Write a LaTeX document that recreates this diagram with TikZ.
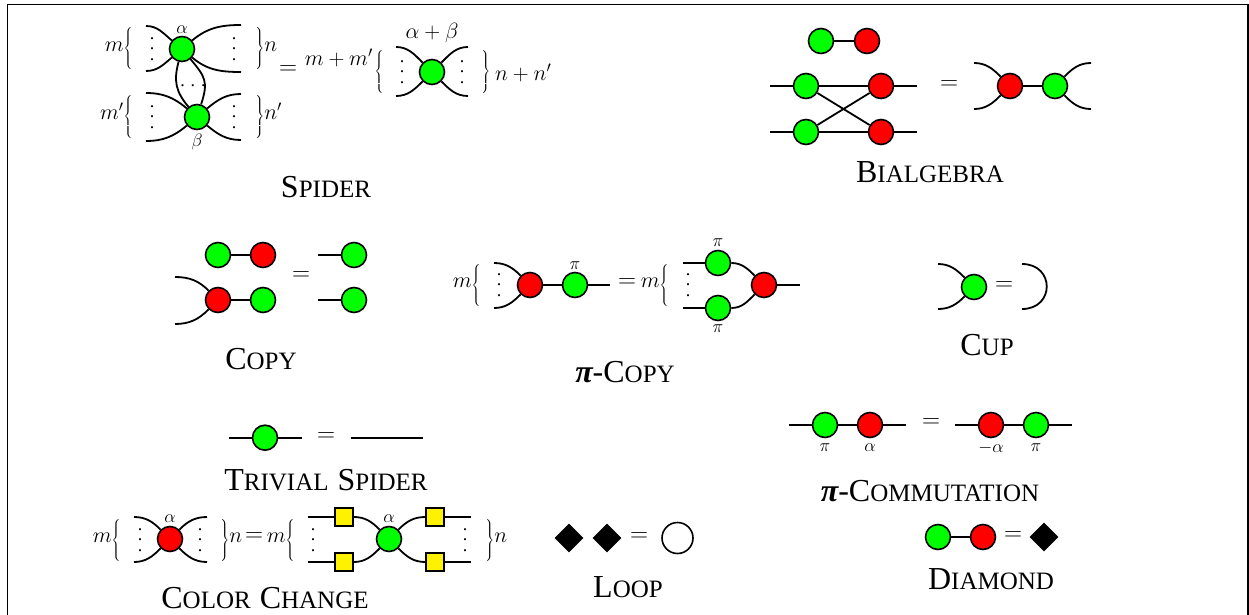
\documentclass[tikz,border=0pt]{standalone}
\usepackage{fix-cm}
\usepackage{amsmath}
\usepackage{fontspec}
\setmainfont{Liberation Serif}
\usetikzlibrary{
    shapes.geometric,
    positioning,
}
% caption in faked small capitals: large initial, then the rest
\newcommand{\capsName}[2]{{\fontsize{32}{32}\selectfont #1\fontsize{25}{25}\selectfont #2}}
\newcommand{\piName}{{\fontsize{32}{32}\selectfont\bfseries\itshape π}}
\newcommand{\tallDots}{\vbox{\baselineskip=10.7pt\lineskiplimit=0pt\hbox{.}\hbox{.}\hbox{.}}}
\newcommand{\wideDots}{\hbox{.\hskip6pt.\hskip6pt.}}
\newcommand{\leftBrace}{\hbox{\fontsize{10}{12}\selectfont$\left\{\vphantom{\rule[-20pt]{0pt}{45pt}}\right.$}}
\newcommand{\rightBrace}{\hbox{\fontsize{10}{12}\selectfont$\left.\vphantom{\rule[-20pt]{0pt}{45pt}}\right\}$}}

\begin{document}
\begin{tikzpicture}[x=1pt,y=-1pt]

    \tikzstyle{commonNode}=[circle, line width=1.6pt, draw=black, minimum size=25pt, inner sep=0pt]
    \tikzstyle{zgreen}=[commonNode, fill=green]
    \tikzstyle{xred}=[commonNode, fill=red]
    \tikzstyle{hbox}=[rectangle, line width=1.6pt, draw=black, fill=yellow, minimum size=18pt, inner sep=0pt]
    \tikzstyle{blackDiamond}=[diamond, fill=black, minimum size=29pt, inner sep=0pt]
    \tikzstyle{wire}=[line width=1.8pt]
    \tikzstyle{eqsign}=[font=\fontsize{25}{25}\selectfont, inner sep=0pt]
    \tikzstyle{mathLabel}=[font=\fontsize{22}{22}\selectfont, inner sep=0pt]
    \tikzstyle{phase}=[font=\fontsize{18}{18}\selectfont, inner sep=0pt]
    \tikzstyle{dotsNode}=[font=\fontsize{18}{18}\selectfont, inner sep=0pt]
    \tikzstyle{caption}=[inner sep=0pt]

    \useasboundingbox (0,0) rectangle (1249,615);

    % Frame
    \coordinate (frameBL) at (7.5,615);
    \coordinate (frameTL) at (7.5,4.3);
    \coordinate (frameTR) at (1248,4.3);
    \coordinate (frameBR) at (1248,615);
    \draw [line width=1.2pt] (frameBL) -- (frameTL) -- (frameTR) -- (frameBR);

    % Spider, left side
    \coordinate (sa1) at (146,26);
    \coordinate (sa2) at (146,71);
    \coordinate (sa3) at (241,25);
    \coordinate (sa4) at (241,72);
    \coordinate (sb1) at (146,93);
    \coordinate (sb2) at (146,141);
    \coordinate (sb3) at (241,94);
    \coordinate (sb4) at (241,140);
    \node at (182,49) [zgreen] (SA) {}
        edge [wire, out=140, in=0] (sa1)
        edge [wire, out=220, in=0] (sa2)
        edge [wire, out=40, in=180] (sa3)
        edge [wire, out=-40, in=180] (sa4);
    \node at (197,117) [zgreen] (SB) {}
        edge [wire, out=140, in=0] (sb1)
        edge [wire, out=220, in=0] (sb2)
        edge [wire, out=40, in=180] (sb3)
        edge [wire, out=-40, in=180] (sb4)
        edge [wire, out=130, in=-105, looseness=1.1] (SA)
        edge [wire, out=72, in=-50, looseness=1.3] (SA);
    \node at (182,30) [phase] (SAphase) {$\alpha$};
    \node at (197,142) [phase] (SBphase) {$\beta$};
    \node at (152,49) [dotsNode] (sad1) {\tallDots};
    \node at (234,49) [dotsNode] (sad2) {\tallDots};
    \node at (152,117) [dotsNode] (sbd1) {\tallDots};
    \node at (234,117) [dotsNode] (sbd2) {\tallDots};
    \node at (193,86) [dotsNode] (sbd3) {\wideDots};
    \node at (134,49) [mathLabel, anchor=east] (SAm) {$m\leftBrace$};
    \node at (254,49) [mathLabel, anchor=west] (SAn) {$\rightBrace n$};
    \node at (134,117) [mathLabel, anchor=east] (SBm) {$m'\leftBrace$};
    \node at (254,117) [mathLabel, anchor=west] (SBn) {$\rightBrace n'$};
    \node at (288,70) [eqsign] (Seq) {$=$};

    % Spider, right side
    \coordinate (sc1) at (396,47);
    \coordinate (sc2) at (396,96);
    \coordinate (sc3) at (468,47);
    \coordinate (sc4) at (468,96);
    \node at (432,72) [zgreen] (SC) {}
        edge [wire, out=135, in=0] (sc1)
        edge [wire, out=225, in=0] (sc2)
        edge [wire, out=45, in=180] (sc3)
        edge [wire, out=-45, in=180] (sc4);
    \node at (432,33) [mathLabel] (SCphase) {$\alpha+\beta$};
    \node at (402,72) [dotsNode] (scd1) {\tallDots};
    \node at (462,72) [dotsNode] (scd2) {\tallDots};
    \node at (373,58) [mathLabel, anchor=east] (SCm) {$m+m'$};
    \node at (385,72) [mathLabel, anchor=east] (SCbl) {$\leftBrace$};
    \node at (480,72) [mathLabel, anchor=west] (SCbr) {$\rightBrace$};
    \node at (495,73) [mathLabel, anchor=west] (SCn) {$n+n'$};
    \node at (326,187) [caption] (Spider) {\capsName{S}{PIDER}};

    % Bialgebra
    \node at (821,41) [zgreen] (BA) {};
    \node at (867,41) [xred] (BB) {}
        edge [wire] (BA);
    \coordinate (bl1) at (770,86);
    \coordinate (bl2) at (770,132);
    \coordinate (br1) at (917,86);
    \coordinate (br2) at (917,132);
    \node at (806,86) [zgreen] (BC) {}
        edge [wire] (bl1);
    \node at (806,132) [zgreen] (BD) {}
        edge [wire] (bl2);
    \node at (881,86) [xred] (BE) {}
        edge [wire] (br1)
        edge [wire] (BC)
        edge [wire] (BD);
    \node at (881,132) [xred] (BF) {}
        edge [wire] (br2)
        edge [wire] (BC)
        edge [wire] (BD);
    \node at (949,85) [eqsign] (Beq) {$=$};
    \coordinate (bq1) at (974,63);
    \coordinate (bq2) at (974,109);
    \coordinate (bq3) at (1091,63);
    \coordinate (bq4) at (1091,109);
    \node at (1010,86) [xred] (BG) {}
        edge [wire, out=135, in=0] (bq1)
        edge [wire, out=225, in=0] (bq2);
    \node at (1055,86) [zgreen] (BH) {}
        edge [wire] (BG)
        edge [wire, out=45, in=180] (bq3)
        edge [wire, out=-45, in=180] (bq4);
    \node at (930,172) [caption] (Bialgebra) {\capsName{B}{IALGEBRA}};

    % Copy
    \node at (218,255) [zgreen] (CA) {};
    \node at (263,255) [xred] (CB) {}
        edge [wire] (CA);
    \coordinate (cl1) at (175,277);
    \coordinate (cl2) at (175,324);
    \node at (218,300) [xred] (CC) {}
        edge [wire, out=135, in=0] (cl1)
        edge [wire, out=225, in=0] (cl2);
    \node at (263,300) [zgreen] (CD) {}
        edge [wire] (CC);
    \node at (301,276) [eqsign] (Ceq) {$=$};
    \coordinate (cr1) at (318,255);
    \coordinate (cr2) at (318,300);
    \node at (354,255) [zgreen] (CE) {}
        edge [wire] (cr1);
    \node at (354,300) [zgreen] (CF) {}
        edge [wire] (cr2);
    \node at (261,359) [caption] (Copy) {\capsName{C}{OPY}};

    % Pi-copy
    \coordinate (pl1) at (494,263);
    \coordinate (pl2) at (494,308);
    \coordinate (pr1) at (610,285);
    \node at (530,285) [xred] (PA) {}
        edge [wire, out=135, in=0] (pl1)
        edge [wire, out=225, in=0] (pl2);
    \node at (575,285) [zgreen] (PB) {}
        edge [wire] (PA)
        edge [wire] (pr1);
    \node at (575,266) [phase] (PBphase) {$\pi$};
    \node at (499,285) [dotsNode] (pd1) {\tallDots};
    \node at (482,285) [mathLabel, anchor=east] (Pm1) {$m\leftBrace$};
    \node at (627,283) [eqsign] (Peq) {$=$};
    \coordinate (pl3) at (683,263);
    \coordinate (pl4) at (683,308);
    \coordinate (pr2) at (800,285);
    \node at (718,263) [zgreen] (PC) {}
        edge [wire] (pl3);
    \node at (718,308) [zgreen] (PD) {}
        edge [wire] (pl4);
    \node at (764,285) [xred] (PE) {}
        edge [wire, out=135, in=0] (PC)
        edge [wire, out=225, in=0] (PD)
        edge [wire] (pr2);
    \node at (718,243) [phase] (PCphase) {$\pi$};
    \node at (718,329) [phase] (PDphase) {$\pi$};
    \node at (688,285) [dotsNode] (pd2) {\tallDots};
    \node at (670,285) [mathLabel, anchor=east] (Pm2) {$m\leftBrace$};
    \node at (625,372) [caption] (PiCopy) {\piName\capsName{-C}{OPY}};

    % Cup
    \coordinate (ul1) at (938,264);
    \coordinate (ul2) at (938,309);
    \coordinate (ur1) at (1022,264);
    \coordinate (ur2) at (1022,309);
    \node at (974,287) [zgreen] (UA) {}
        edge [wire, out=135, in=0] (ul1)
        edge [wire, out=225, in=0] (ul2);
    \node at (1004,286) [eqsign] (Ueq) {$=$};
    \draw [wire] (ur1) .. controls (1055,264) and (1055,309) .. (ur2);
    \node at (987,345) [caption] (Cup) {\capsName{C}{UP}};

    % Trivial spider
    \coordinate (tl1) at (229,437.7);
    \coordinate (tr1) at (302,437.7);
    \coordinate (tl2) at (351,437.7);
    \coordinate (tr2) at (423,437.7);
    \node at (265,437.7) [zgreen] (TA) {}
        edge [wire] (tl1)
        edge [wire] (tr1);
    \node at (326,437) [eqsign] (Teq) {$=$};
    \draw [wire] (tl2) -- (tr2);
    \node at (326,480) [caption] (Trivial) {\capsName{T}{RIVIAL}\hspace{9pt}\capsName{S}{PIDER}};

    % Pi-commutation
    \coordinate (ml1) at (789,425);
    \coordinate (mr1) at (906,425);
    \coordinate (ml2) at (955,425);
    \coordinate (mr2) at (1072,425);
    \node at (825,425) [zgreen] (MA) {}
        edge [wire] (ml1);
    \node at (870,425) [xred] (MB) {}
        edge [wire] (MA)
        edge [wire] (mr1);
    \node at (991,425) [xred] (MC) {}
        edge [wire] (ml2);
    \node at (1036,425) [zgreen] (MD) {}
        edge [wire] (MC)
        edge [wire] (mr2);
    \node at (825,448) [phase] (MAphase) {$\pi$};
    \node at (870,448) [phase] (MBphase) {$\alpha$};
    \node at (991,448) [phase] (MCphase) {$-\alpha$};
    \node at (1036,448) [phase] (MDphase) {$\pi$};
    \node at (931,423) [eqsign] (Meq) {$=$};
    \node at (930,491) [caption] (PiComm) {\piName\capsName{-C}{OMMUTATION}};

    % Color change
    \coordinate (hl1) at (134,517);
    \coordinate (hl2) at (134,562);
    \coordinate (hr1) at (207,517);
    \coordinate (hr2) at (207,562);
    \node at (170,539) [xred] (HA) {}
        edge [wire, out=135, in=0] (hl1)
        edge [wire, out=225, in=0] (hl2)
        edge [wire, out=45, in=180] (hr1)
        edge [wire, out=-45, in=180] (hr2);
    \node at (170,519) [phase] (HAphase) {$\alpha$};
    \node at (140,540) [dotsNode] (hd1) {\tallDots};
    \node at (200,540) [dotsNode] (hd2) {\tallDots};
    \node at (122,540) [mathLabel, anchor=east] (Hm1) {$m\leftBrace$};
    \node at (219,540) [mathLabel, anchor=west] (Hn1) {$\rightBrace n$};
    \node at (254,537) [eqsign] (Heq) {$=$};
    \coordinate (hl3) at (308,517);
    \coordinate (hl4) at (308,562);
    \coordinate (hr3) at (471,517);
    \coordinate (hr4) at (471,562);
    \node at (344,517) [hbox] (HB) {}
        edge [wire] (hl3);
    \node at (344,562) [hbox] (HC) {}
        edge [wire] (hl4);
    \node at (435,517) [hbox] (HD) {}
        edge [wire] (hr3);
    \node at (435,562) [hbox] (HE) {}
        edge [wire] (hr4);
    \node at (389,539) [zgreen] (HF) {}
        edge [wire, out=135, in=0] (HB)
        edge [wire, out=225, in=0] (HC)
        edge [wire, out=45, in=180] (HD)
        edge [wire, out=-45, in=180] (HE);
    \node at (389,519) [phase] (HFphase) {$\alpha$};
    \node at (313,540) [dotsNode] (hd3) {\tallDots};
    \node at (465,540) [dotsNode] (hd4) {\tallDots};
    \node at (296,540) [mathLabel, anchor=east] (Hm2) {$m\leftBrace$};
    \node at (484,540) [mathLabel, anchor=west] (Hn2) {$\rightBrace n$};
    \node at (265,598) [caption] (ColorChange) {\capsName{C}{OLOR}\hspace{9pt}\capsName{C}{HANGE}};

    % Loop
    \node at (569,538) [blackDiamond] (LA) {};
    \node at (607,538) [blackDiamond] (LB) {};
    \node at (639,537) [eqsign] (Leq) {$=$};
    \node at (677.5,538) [commonNode, minimum size=31pt, fill=white] (LC) {};
    \node at (628,587) [caption] (Loop) {\capsName{L}{OOP}};

    % Diamond
    \node at (938,537) [zgreen] (DA) {};
    \node at (983,537) [xred] (DB) {}
        edge [wire] (DA);
    \node at (1013,536) [eqsign] (Deq) {$=$};
    \node at (1044,537) [blackDiamond] (DC) {};
    \node at (991,579) [caption] (Diamond) {\capsName{D}{IAMOND}};

\end{tikzpicture}
\end{document}
